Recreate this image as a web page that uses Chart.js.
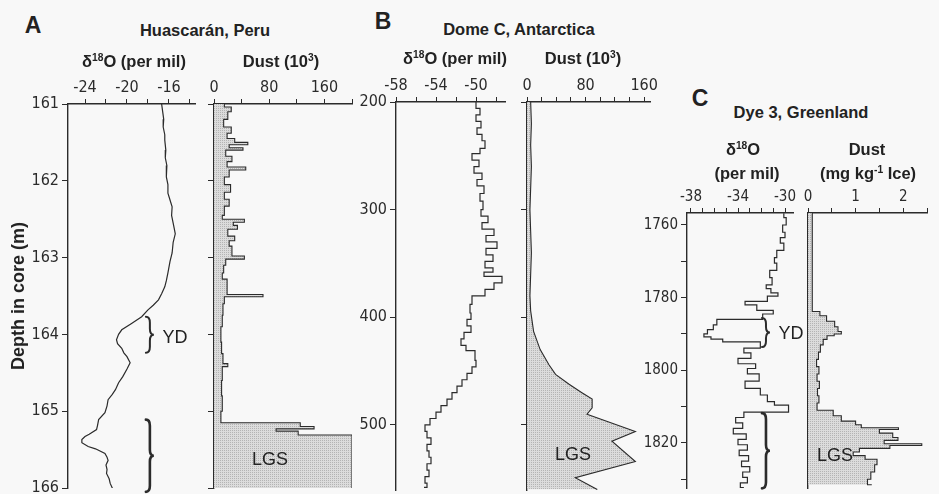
<!DOCTYPE html>
<html>
<head>
<meta charset="utf-8">
<script src="https://cdn.jsdelivr.net/npm/chart.js@4.4.1/dist/chart.umd.min.js"></script>
<style>
  body { margin: 0; background: #f8f8f8; }
  #wrap { position: relative; width: 939px; height: 494px; overflow: hidden;
          font-family: 'Liberation Sans', Arial, sans-serif; color: #222; }
  canvas { position: absolute; }
  .t { position: absolute; white-space: nowrap; transform: translate(-50%, -50%);
       font-weight: bold; font-size: 16.5px; line-height: 1; }
  .t sup { font-size: 0.62em; vertical-align: 0.6em; line-height: 0; }
  .big { font-size: 23px; }
  .note { font-weight: normal; font-size: 18px; }
  .rot { transform: translate(-50%, -50%) rotate(-90deg); font-size: 18px; }
</style>
</head>
<body>
<div id="wrap">
  <canvas id="aO"></canvas><canvas id="aD"></canvas>
  <canvas id="bO"></canvas><canvas id="bD"></canvas>
  <canvas id="cO"></canvas><canvas id="cD"></canvas>

  <div class="t big" style="left:33px;top:25px">A</div>
  <div class="t" style="left:205px;top:30px">Huascarán, Peru</div>
  <div class="t" style="left:134px;top:61px">δ<sup>18</sup>O (per mil)</div>
  <div class="t" style="left:281px;top:61px">Dust (10<sup>3</sup>)</div>

  <div class="t big" style="left:383px;top:21px">B</div>
  <div class="t" style="left:519px;top:29px">Dome C, Antarctica</div>
  <div class="t" style="left:455px;top:58px">δ<sup>18</sup>O (per mil)</div>
  <div class="t" style="left:583px;top:58px">Dust (10<sup>3</sup>)</div>

  <div class="t big" style="left:700px;top:98px">C</div>
  <div class="t" style="left:801px;top:112px">Dye 3, Greenland</div>
  <div class="t" style="left:743px;top:149px">δ<sup>18</sup>O</div>
  <div class="t" style="left:747px;top:173px">(per mil)</div>
  <div class="t" style="left:867px;top:149px">Dust</div>
  <div class="t" style="left:868px;top:173px">(mg kg<sup>-1</sup> Ice)</div>

  <div class="t rot" style="left:18px;top:296px">Depth in core (m)</div>

  <div class="t note" style="left:175px;top:337px">YD</div>
  <div class="t note" style="left:270px;top:459px">LGS</div>
  <div class="t note" style="left:573px;top:454px">LGS</div>
  <div class="t note" style="left:791px;top:333px">YD</div>
  <div class="t note" style="left:835px;top:455px">LGS</div>
</div>
<script>
// Huascarán, Peru
const depthA = [161.0, 161.1, 161.2, 161.3, 161.4, 161.47, 161.6, 161.7, 161.8, 161.95, 162.05, 162.16, 162.25, 162.34, 162.45, 162.55, 162.62, 162.69, 162.8, 162.94, 163.05, 163.2, 163.3, 163.38, 163.47, 163.55, 163.62, 163.68, 163.77, 163.86, 163.94, 164.0, 164.07, 164.12, 164.18, 164.24, 164.29, 164.37, 164.45, 164.55, 164.63, 164.72, 164.78, 164.85, 164.93, 165.02, 165.11, 165.18, 165.24, 165.3, 165.33, 165.37, 165.41, 165.46, 165.49, 165.55, 165.6, 165.64, 165.7, 165.76, 165.81, 165.88, 165.94, 166.03];
const o18A = [-16.7, -16.6, -16.5, -16.55, -16.4, -16.4, -16.3, -16.35, -16.2, -16.25, -16.1, -16.1, -15.9, -15.7, -15.75, -15.6, -15.5, -15.4, -15.6, -15.7, -15.9, -16.1, -16.25, -16.4, -16.7, -17.0, -17.5, -18.0, -18.6, -19.6, -20.5, -20.8, -21.0, -20.9, -20.5, -20.3, -20.0, -19.7, -20.0, -20.4, -20.8, -21.1, -21.4, -21.8, -21.9, -22.1, -22.7, -22.8, -22.9, -23.6, -24.0, -24.3, -24.3, -23.7, -23.0, -22.1, -21.9, -21.8, -22.0, -21.9, -21.95, -21.7, -21.6, -21.3];
const dustDepthA = [161.0, 161.04, 161.1, 161.2, 161.3, 161.38, 161.45, 161.5, 161.53, 161.57, 161.6, 161.68, 161.75, 161.82, 161.86, 161.95, 162.05, 162.15, 162.24, 162.33, 162.45, 162.5, 162.54, 162.58, 162.63, 162.72, 162.78, 162.85, 162.98, 163.02, 163.1, 163.2, 163.28, 163.48, 163.51, 163.6, 163.75, 163.9, 164.1, 164.25, 164.38, 164.42, 164.6, 164.8, 165.0, 165.15, 165.2, 165.23, 165.26, 165.31, 166.03];
const dustA = [15, 25, 20, 14, 25, 19, 30, 49, 22, 42, 17, 26, 19, 46, 22, 15, 24, 15, 22, 15, 12, 44, 28, 34, 20, 30, 22, 26, 44, 17, 14, 12, 19, 71, 15, 13, 12, 10, 11, 13, 20, 12, 11, 12, 10, 125, 145, 90, 122, 200, 200];

// Dome C, Antarctica
const depthB = [200, 206, 212, 218, 224, 230, 236, 243, 248, 254, 260, 266, 272, 278, 285, 292, 300, 306, 312, 318, 324, 330, 336, 342, 348, 354, 358, 362, 368, 374, 380, 388, 396, 402, 408, 414, 420, 426, 431, 440, 446, 452, 458, 464, 470, 476, 482, 488, 494, 500, 506, 512, 518, 524, 530, 536, 542, 548, 554, 558];
const o18B = [-50.0, -49.6, -50.0, -49.5, -49.9, -49.4, -49.1, -49.6, -50.4, -49.7, -50.2, -49.4, -49.9, -49.2, -49.6, -49.3, -49.5, -48.8, -49.4, -48.2, -49.0, -47.9, -49.0, -48.3, -49.1, -48.3, -49.2, -47.4, -48.2, -49.1, -50.4, -50.6, -50.5, -50.9, -50.5, -51.2, -51.5, -51.0, -50.1, -50.0, -50.4, -50.9, -51.4, -51.9, -52.4, -52.9, -53.5, -54.0, -54.6, -55.1, -54.9, -54.5, -54.9, -54.7, -54.5, -54.9, -54.7, -55.1, -54.9, -55.2];
const dustDepthB = [200, 220, 240, 260, 280, 300, 320, 340, 360, 380, 394, 413, 430, 444, 453, 462, 470, 476, 484, 490, 506, 515, 534, 549, 560];
const dustB = [5, 6, 5, 6, 5, 4, 5, 6, 5, 4, 5, 9, 18, 30, 39, 57, 75, 89, 89, 82, 148, 116, 148, 66, 96];

// Dye 3, Greenland
const depthC = [1756.8, 1758, 1760, 1762, 1763.5, 1765, 1767, 1769, 1770.5, 1772.5, 1774.5, 1776.5, 1777.5, 1778.7, 1779.6, 1781, 1782, 1783.5, 1784.5, 1786, 1787.5, 1788.8, 1790, 1790.8, 1791.4, 1792.2, 1793.9, 1795.2, 1796.7, 1798.2, 1799.5, 1801, 1803, 1805, 1806.8, 1808.6, 1809.6, 1811.5, 1813, 1814.5, 1816, 1817.5, 1819, 1820.5, 1822, 1823.5, 1825, 1826.5, 1828, 1829.5, 1831, 1832.3];
const o18C = [-30.1, -29.9, -30.2, -30.0, -30.4, -30.1, -30.7, -30.9, -30.7, -31.3, -31.1, -31.6, -31.2, -30.6, -31.5, -33.4, -32.4, -31.0, -31.9, -35.8, -36.1, -36.6, -36.9, -36.3, -35.3, -32.1, -33.5, -32.9, -34.0, -32.5, -33.2, -32.2, -33.4, -32.1, -31.5, -30.9, -29.7, -33.5, -34.2, -33.6, -34.4, -33.3, -34.0, -33.2, -33.9, -33.1, -33.7, -33.0, -33.6, -33.2, -33.8, -33.5];
const dustDepthC = [1756.7, 1783.8, 1785, 1786.5, 1788, 1789.3, 1790, 1790.5, 1791.5, 1793, 1795, 1797, 1799, 1801, 1803, 1805, 1807, 1809, 1811, 1812.5, 1814, 1815, 1815.8, 1816.3, 1817.3, 1818.5, 1819.3, 1820.2, 1820.7, 1821.5, 1822.5, 1823.5, 1824.5, 1826, 1828, 1830, 1831.5];
const dustC = [0.09, 0.25, 0.39, 0.56, 0.63, 0.70, 0.55, 0.40, 0.32, 0.26, 0.22, 0.18, 0.23, 0.19, 0.24, 0.20, 0.23, 0.19, 0.53, 0.70, 1.00, 1.12, 1.90, 1.50, 1.78, 1.89, 1.60, 2.39, 1.72, 1.08, 0.95, 1.20, 1.45, 1.40, 1.32, 1.25, 1.34];

// ticks
const depthTicksA = [161, 162, 163, 164, 165, 166];
const depthTicksB = [200, 300, 400, 500];
const depthTicksC = [1760, 1770, 1780, 1790, 1800, 1810, 1820, 1830];
const depthLabelsC = [1760, 1780, 1800, 1820];
const o18TicksA = [-24, -22, -20, -18, -16, -14], o18LabelsA = [-24, -20, -16];
const dustTicksA = [0, 40, 80, 120, 160, 200], dustLabelsA = [0, 80, 160];
const o18TicksB = [-58, -56, -54, -52, -50, -48], o18LabelsB = [-58, -54, -50];
const dustTicksB = [0, 20, 40, 60, 80, 100, 120, 140, 160], dustLabelsB = [0, 80, 160];
const o18TicksC = [-38, -37, -36, -35, -34, -33, -32, -31, -30], o18LabelsC = [-38, -34, -30];
const dustTicksC = [0, 0.5, 1, 1.5, 2, 2.5], dustLabelsC = [0, 1, 2];

// brace marks: value position and depth span
const bracesA = [{at: -18.2, from: 163.77, to: 164.24, lw: 2}, {at: -18.2, from: 165.11, to: 166.05, lw: 2.6}];
const bracesC = [{at: -31.96, from: 1785.6, to: 1793.6, lw: 2}, {at: -31.96, from: 1811.8, to: 1832.5, lw: 2.6}];

const INK = '#2b2b2b';
const narrow = "'Liberation Sans Narrow', 'DejaVu Sans Condensed', 'Liberation Sans', Arial, sans-serif";

function stipple() {
  const c = document.createElement('canvas');
  c.width = 2; c.height = 2;
  const g = c.getContext('2d');
  g.fillStyle = '#dcdcdc'; g.fillRect(0, 0, 2, 2);
  g.fillStyle = '#b4b4b4'; g.fillRect(0, 0, 1, 1);
  return g.createPattern(c, 'repeat');
}

function drawBrace(ctx, x, y1, y2, w, lw) {
  const ym = (y1 + y2) / 2, r = Math.min(6, (y2 - y1) / 5), h = x + w / 2;
  ctx.save();
  ctx.strokeStyle = INK; ctx.lineWidth = lw; ctx.lineCap = 'round';
  ctx.beginPath();
  ctx.moveTo(x, y1);
  ctx.quadraticCurveTo(h, y1, h, y1 + r);
  ctx.lineTo(h, ym - r);
  ctx.quadraticCurveTo(h, ym, x + w, ym);
  ctx.quadraticCurveTo(h, ym, h, ym + r);
  ctx.lineTo(h, y2 - r);
  ctx.quadraticCurveTo(h, y2, x, y2);
  ctx.stroke();
  ctx.restore();
}

const braceLayer = items => ({
  id: 'braces',
  afterDatasetsDraw(chart) {
    const {ctx, scales: {x, y}} = chart;
    items.forEach(b => {
      drawBrace(ctx, x.getPixelForValue(b.at), y.getPixelForValue(b.from), y.getPixelForValue(b.to), 8, b.lw);
    });
  }
});

// area = [left, top, right, bottom] of the plot frame on the page
function profile(id, area, o) {
  const cv = document.getElementById(id);
  const padR = 24, padB = 6;
  cv.width = area[2] - area[0] + o.yW + padR;
  cv.height = area[3] - area[1] + o.xH + padB;
  cv.style.left = (area[0] - o.yW) + 'px';
  cv.style.top = (area[1] - o.xH) + 'px';
  const border = {display: true, color: INK, width: 1.4};
  return new Chart(cv, {
    type: 'line',
    data: {
      datasets: [{
        data: o.depth.map((d, i) => ({x: o.values[i], y: d})),
        borderColor: INK,
        borderWidth: o.fill ? 1.1 : 1.2,
        pointRadius: 0,
        stepped: o.stepped || false,
        fill: o.fill ? 'origin' : false,
        backgroundColor: o.fill ? stipple() : 'transparent'
      }]
    },
    options: {
      responsive: false,
      animation: false,
      events: [],
      indexAxis: 'y',
      layout: {padding: {left: 0, top: 0, right: padR, bottom: padB}},
      plugins: {legend: {display: false}, tooltip: {enabled: false}},
      scales: {
        x: {
          type: 'linear', position: 'top', min: o.xMin, max: o.xMax,
          afterBuildTicks: s => { s.ticks = o.xTicks.map(v => ({value: v})); },
          afterFit: s => { s.height = o.xH; s.paddingLeft = 0; s.paddingRight = 0; },
          ticks: {autoSkip: false, maxRotation: 0, padding: 2, color: INK, font: o.font,
                  callback: v => o.xLabels.includes(v) ? String(v) : ''},
          grid: {drawOnChartArea: false, drawTicks: true, tickLength: 5, color: INK, lineWidth: 1},
          border
        },
        y: {
          type: 'linear', position: 'left', reverse: true, min: o.yMin, max: o.yMax,
          afterBuildTicks: s => { s.ticks = o.yTicks.map(v => ({value: v})); },
          afterFit: s => { s.width = o.yW; s.paddingTop = 0; s.paddingBottom = 0; },
          ticks: {display: o.yLabels.length > 0, autoSkip: false, padding: 3, color: INK, font: o.font,
                  callback: v => o.yLabels.includes(v) ? String(v) : ''},
          grid: {drawOnChartArea: false, drawTicks: o.yMarks !== false, tickLength: 6, color: INK, lineWidth: 1},
          border
        }
      }
    },
    plugins: [braceLayer(o.braces || [])]
  });
}

const fontAB = {family: narrow, size: 16};
const fontC = {family: narrow, size: 15};

profile('aO', [68, 104, 195, 488], {
  depth: depthA, values: o18A, xMin: -25.62, xMax: -13.52, xTicks: o18TicksA, xLabels: o18LabelsA,
  yMin: 161, yMax: 166, yTicks: depthTicksA, yLabels: depthTicksA, yW: 60, xH: 40, font: fontAB, braces: bracesA
});
profile('aD', [214, 104, 352, 488], {
  depth: dustDepthA, values: dustA, stepped: 'after', fill: true, xMin: 0, xMax: 200, xTicks: dustTicksA, xLabels: dustLabelsA,
  yMin: 161, yMax: 166, yTicks: depthTicksA, yLabels: [], yW: 8, xH: 40, font: fontAB
});
profile('bO', [396, 102, 505, 490], {
  depth: depthB, values: o18B, stepped: 'after', xMin: -58, xMax: -47.1, xTicks: o18TicksB, xLabels: o18LabelsB,
  yMin: 200, yMax: 560.4, yTicks: depthTicksB, yLabels: depthTicksB, yW: 60, xH: 40, font: fontAB
});
profile('bD', [527, 102, 650, 490], {
  depth: dustDepthB, values: dustB, fill: true, xMin: 0, xMax: 168, xTicks: dustTicksB, xLabels: dustLabelsB,
  yMin: 200, yMax: 560.4, yTicks: depthTicksB, yLabels: [], yW: 8, xH: 40, font: fontAB
});
profile('cO', [687, 213, 793, 488], {
  depth: depthC, values: o18C, stepped: 'after', xMin: -38.34, xMax: -29.32, xTicks: o18TicksC, xLabels: o18LabelsC,
  yMin: 1756.7, yMax: 1832.4, yTicks: depthTicksC, yLabels: depthLabelsC, yW: 60, xH: 36, font: fontC, braces: bracesC
});
profile('cD', [808, 213, 927, 488], {
  depth: dustDepthC, values: dustC, stepped: 'after', fill: true, xMin: 0, xMax: 2.5, xTicks: dustTicksC, xLabels: dustLabelsC,
  yMin: 1756.7, yMax: 1832.4, yTicks: depthTicksC, yLabels: [], yMarks: false, yW: 8, xH: 36, font: fontC
});
</script>
</body>
</html>
